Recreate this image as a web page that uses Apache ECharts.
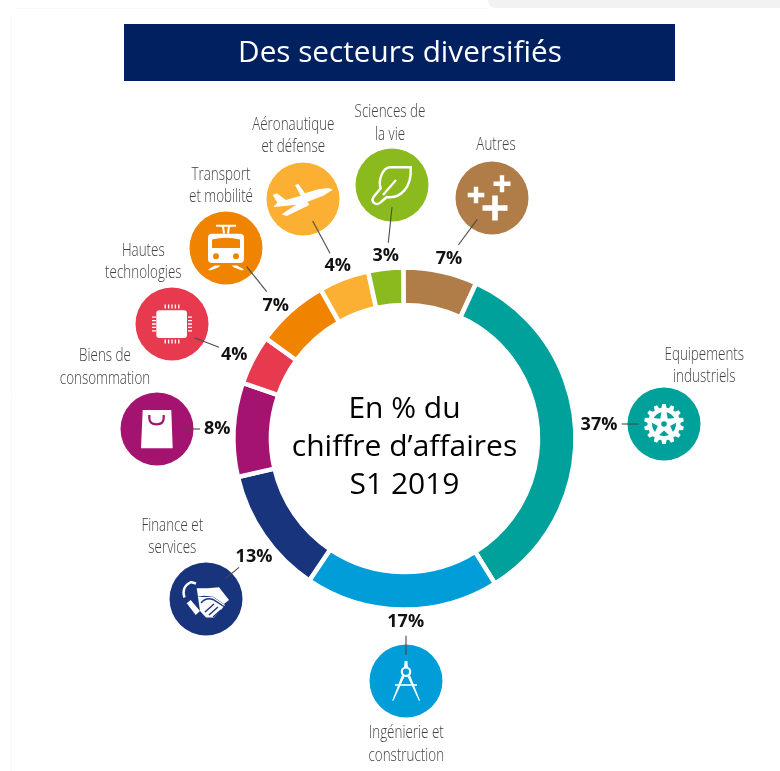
<!DOCTYPE html>
<html>
<head>
<meta charset="utf-8">
<style>
html, body { margin: 0; padding: 0; background: #fff; }
#main { width: 780px; height: 771px; }
</style>
<script src="https://cdn.jsdelivr.net/npm/echarts@6/dist/echarts.min.js"></script>
</head>
<body>
<div id="main"></div>
<script>
var sectors = ['Autres', 'Equipements\nindustriels', 'Ingénierie et\nconstruction', 'Finance et\nservices', 'Biens de\nconsommation', 'Hautes\ntechnologies', 'Transport\net mobilité', 'Aéronautique\net défense', 'Sciences de\nla vie'];
// percentages as printed next to each slice
var printedShares = [7, 37, 17, 13, 8, 4, 7, 4, 3];
// arc sizes as measured on the ring (the drawn arcs differ a little from the printed numbers)
var arcShares = [7.0, 34.3, 18.3, 12.0, 8.9, 4.7, 6.9, 4.75, 3.3];
var colors = ['#b07d49', '#00a19a', '#009dd9', '#17347d', '#a3136f', '#e83a4f', '#f08300', '#fbb034', '#8aba1e'];

var CX = 404.5, CY = 438.5;

// callout layout, same order as sectors
// c: icon centre, n: name centre, p: percent centre, l: leader line
var callouts = [
	{ c: [492, 198], n: [496, 145], p: [449, 258.7], l: [477.3, 219.3, 458.3, 245] },
	{ c: [664, 424], n: [704.3, 366], p: [599, 425], l: [621.7, 424, 638.3, 424] },
	{ c: [406, 681], n: [406.3, 744.5], p: [405.7, 621.5], l: [406, 635.7, 406, 655] },
	{ c: [206, 599], n: [172.3, 537], p: [254, 556.5], l: [225.7, 578.3, 239, 567.3] },
	{ c: [157, 429], n: [105, 367.5], p: [217.3, 429], l: [182.7, 429, 200, 429] },
	{ c: [172, 324], n: [143.3, 261.7], p: [234.3, 355.3], l: [194.3, 337.7, 219, 347.3] },
	{ c: [226, 248], n: [221, 186], p: [275.7, 306.3], l: [246.7, 266.7, 266.7, 291.7] },
	{ c: [303, 199], n: [293.3, 136], p: [337.7, 266.3], l: [312.7, 221, 330, 253.3] },
	{ c: [392, 185], n: [390, 123.5], p: [385.7, 256.3], l: [392, 207.3, 388.3, 242.7] }
];

function plus(x, y, a, t) {
	return 'M' + (x - t) + ' ' + (y - a) + 'H' + (x + t) + 'V' + (y - t) + 'H' + (x + a) + 'V' + (y + t) + 'H' + (x + t) + 'V' + (y + a) + 'H' + (x - t) + 'V' + (y + t) + 'H' + (x - a) + 'V' + (y - t) + 'H' + (x - t) + 'Z';
}

function circlePath(x, y, r) {
	return 'M' + (x - r) + ' ' + y + 'A' + r + ' ' + r + ' 0 1 1 ' + (x + r) + ' ' + y + 'A' + r + ' ' + r + ' 0 1 1 ' + (x - r) + ' ' + y + 'Z';
}

function gearOutline(n, r1, r2) {
	var d = '', step = Math.PI * 2 / n;
	for (var i = 0; i < n; i++) {
		var a = i * step - Math.PI / 2;
		var pts = [[r2, a - step * 0.34], [r1, a - step * 0.2], [r1, a + step * 0.2], [r2, a + step * 0.34]];
		for (var j = 0; j < 4; j++) {
			d += (d ? 'L' : 'M') + (pts[j][0] * Math.cos(pts[j][1])).toFixed(2) + ' ' + (pts[j][0] * Math.sin(pts[j][1])).toFixed(2);
		}
	}
	return d + 'Z';
}

function gearWindows() {
	var d = '';
	for (var i = 0; i < 5; i++) {
		var a = Math.PI / 2 + i * Math.PI * 2 / 5, w = 0.42;
		d += 'M' + (6.5 * Math.cos(a)).toFixed(2) + ' ' + (6.5 * Math.sin(a)).toFixed(2) +
			'L' + (12 * Math.cos(a - w)).toFixed(2) + ' ' + (12 * Math.sin(a - w)).toFixed(2) +
			'Q' + (13 * Math.cos(a)).toFixed(2) + ' ' + (13 * Math.sin(a)).toFixed(2) + ' ' + (12 * Math.cos(a + w)).toFixed(2) + ' ' + (12 * Math.sin(a + w)).toFixed(2) + 'Z';
	}
	return d;
}

function pins() {
	var d = '';
	for (var i = -2; i <= 2; i++) {
		var v = i * 3.4;
		d += 'M' + v + ' -19.5V-15.5M' + v + ' 15.5V19.5M-20 ' + v + 'H-16M16 ' + v + 'H20';
	}
	return d;
}

// icon drawing in local coordinates around the circle centre, bg = circle colour
var icons = [
	[{ f: 'w', d: plus(-16, -3, 8.3, 2.2) + plus(10, -14.3, 8.5, 2.2) + plus(3, 10, 12.5, 2.8) }],
	[
		{ f: 'w', d: gearOutline(14, 20, 16.5) },
		{ f: 'bg', d: gearWindows() },
		{ f: 'bg', d: circlePath(0, 0, 2.8) }
	],
	[
		{ f: 'w', d: 'M-1.4 -20H1.4L1.9 -14H-1.9Z' },
		{ s: 'w', w: 2.2, d: circlePath(0, -9.3, 4.2) },
		{ f: 'w', d: 'M-4.2 -5.5L-1.6 -4.3L-12.6 19.7L-13.8 19.7ZM4.2 -5.5L1.6 -4.3L12.9 19.7L14.1 19.7Z' },
		{ s: 'w', w: 1.6, d: 'M-11 4H11' }
	],
	[
		{ f: 'w', d: 'M-8 -2 L7 -2 L19 6 L14 12 L8 18.5 L0 18.5 L-6 12 Z' },
		{ s: 'bg', w: 1.4, d: 'M-5 4Q0 -2 7 0.5L18 7.5M-1 13L8 5M3 16L12 8M7 18L15 11' },
		{ f: 'w', d: 'M-9.3 -10.7L1.3 -10.7L13 -11.7L23 1L18 5L7.3 -2.3L-2 -3.3L-8 -2.3Z' },
		{ s: 'w', w: 2.4, d: 'M-10 -15.5L-15 -17Q-25 -12 -21.5 -1.5' },
		{ f: 'w', d: 'M-19.3 4.3L-15.3 1L-6 12L-10.3 16Z' }
	],
	[
		{ f: 'w', d: 'M-14.3 -19H14.3L15.7 19.3H-16Z' },
		{ s: 'bg', w: 2.2, d: 'M-7.7 -14V-11Q-7.7 -4.7 -0.5 -4.7Q6.7 -4.7 6.7 -11V-14' }
	],
	[
		{ f: 'w', d: 'M-12.7 -13.7H12A3 3 0 0 1 15 -10.7V11A3 3 0 0 1 12 14H-12.7A3 3 0 0 1 -15.7 11V-10.7A3 3 0 0 1 -12.7 -13.7Z' },
		{ s: 'w', w: 1.3, d: pins() }
	],
	[
		{ f: 'w', d: 'M-14 -14.3H14A4 4 0 0 1 18 -10.3V11A4 4 0 0 1 14 15H-14A4 4 0 0 1 -18 11V-10.3A4 4 0 0 1 -14 -14.3Z' },
		{ f: 'bg', d: 'M-14 -8.5Q0 -12 14 -8.5V0H-14Z' },
		{ f: 'bg', d: circlePath(-10, 8.3, 3) + circlePath(10, 8.3, 3) },
		{ s: 'w', w: 2, d: 'M-10 -22.3H10M-5 -22H-3L-2 -14.5M5 -22H3L2 -14.5' },
		{ f: 'w', d: 'M-11 17.5H-5.5L-8 19.5L-16 22.5L-18 21.5ZM11 17.5H5.5L8 19.5L16 22.5L18 21.5Z' }
	],
	[{ f: 'w', d: 'M29.7 -9.3L25.3 -11L15.3 -9.7L2 -5.7L-4.7 -15L-8 -14L-2.3 -3.3L-17 1L-26.3 -5.7L-30.3 -4L-25.7 3.7L-29.7 8L-18 7L-7 5.7L-21.3 15.3L-16.3 17L6.3 6L4.3 2.7L20.3 -3.3Z' }],
	[
		{ s: 'w', w: 2.4, d: 'M18.7 -17.7L-2 -17.7C-10 -17 -14 -4 -11.3 3.3L-18.7 12.3Q-21 16 -17 18.5Q-14 20 -11 17L-5.3 12C8 14 20 3 18.7 -17.7Z' },
		{ s: 'w', w: 2.2, d: 'M-9 10L4 -5' }
	]
];

var seriesData = sectors.map(function (name, i) {
	return { name: name, value: arcShares[i], itemStyle: { color: colors[i] } };
});

var graphics = [
	{ type: 'rect', z: 0, shape: { x: 124, y: 24, width: 551, height: 57 }, style: { fill: '#002060' } },
	{ type: 'rect', z: 0, shape: { x: 488, y: -10, width: 320, height: 18, r: 8 }, style: { fill: '#f2f2f2' } },
	{ type: 'line', z: 0, shape: { x1: 15, y1: 8.5, x2: 488, y2: 8.5 }, style: { stroke: '#f9f9f9', lineWidth: 1 } },
	{ type: 'line', z: 0, shape: { x1: 11.5, y1: 14, x2: 11.5, y2: 771 }, style: { stroke: '#f9f9f9', lineWidth: 1 } },
	{
		type: 'text', z: 5, x: 400, y: 54,
		style: { text: 'Des secteurs diversifiés', fill: '#fff', font: '400 29.7px "Open Sans"', textAlign: 'center', textVerticalAlign: 'middle' }
	},
	{
		type: 'text', z: 5, x: CX, y: 447.5,
		style: { text: 'En % du\nchiffre d’affaires\nS1 2019', fill: '#000', font: '400 30px "Open Sans"', lineHeight: 38, textAlign: 'center', textVerticalAlign: 'middle' }
	}
];

callouts.forEach(function (co, i) {
	graphics.push({
		type: 'circle', z: 2,
		shape: { cx: co.c[0], cy: co.c[1], r: 36.5 },
		style: { fill: colors[i] }
	});
	graphics.push({
		type: 'text', z: 4,
		x: co.n[0], y: co.n[1], scaleX: 0.745,
		style: { text: sectors[i], fill: '#404040', font: '300 18px "Open Sans"', lineHeight: 22.3, textAlign: 'center', textVerticalAlign: 'middle' }
	});
});

// icons and leader lines go in a custom series, the graphic component has no free path type
function renderIcon(params) {
	var i = params.dataIndex, co = callouts[i];
	var col = function (k) { return k === 'w' ? '#fff' : colors[i]; };
	var children = icons[i].map(function (part) {
		return {
			type: 'path',
			x: co.c[0], y: co.c[1],
			// the two bare moves pin the bounding box so the path keeps its 1:1 scale
			shape: { pathData: 'M-40 -40M40 40' + part.d, x: -40, y: -40, width: 80, height: 80, layout: 'cover' },
			style: {
				fill: part.f ? col(part.f) : 'none',
				stroke: part.s ? col(part.s) : 'none',
				lineWidth: part.w || 0
			}
		};
	});
	children.push({
		type: 'line',
		shape: { x1: co.l[0], y1: co.l[1], x2: co.l[2], y2: co.l[3] },
		style: { stroke: '#4a4a4a', lineWidth: 1.1 }
	});
	return { type: 'group', children: children };
}

var myChart = echarts.init(document.getElementById('main'), null, { renderer: 'canvas' });
var option = {
	animation: false,
	backgroundColor: '#fff',
	series: [{
		type: 'pie',
		center: [CX, CY],
		radius: [133.5, 171],
		startAngle: 90.4,
		clockwise: true,
		silent: true,
		data: seriesData,
		itemStyle: { borderColor: '#fff', borderWidth: 4.5 },
		label: {
			show: true,
			position: 'outside',
			color: '#111',
			fontFamily: 'Open Sans',
			fontWeight: 700,
			fontSize: 18,
			formatter: function (p) { return printedShares[p.dataIndex] + '%'; }
		},
		labelLine: { show: false },
		labelLayout: function (p) {
			var co = callouts[p.dataIndex];
			return { x: co.p[0], y: co.p[1], align: 'center', verticalAlign: 'middle', hideOverlap: false };
		}
	}, {
		type: 'custom',
		coordinateSystem: 'none',
		silent: true,
		z: 20,
		data: sectors,
		renderItem: renderIcon
	}],
	graphic: { elements: graphics }
};
myChart.setOption(option);
</script>
</body>
</html>
